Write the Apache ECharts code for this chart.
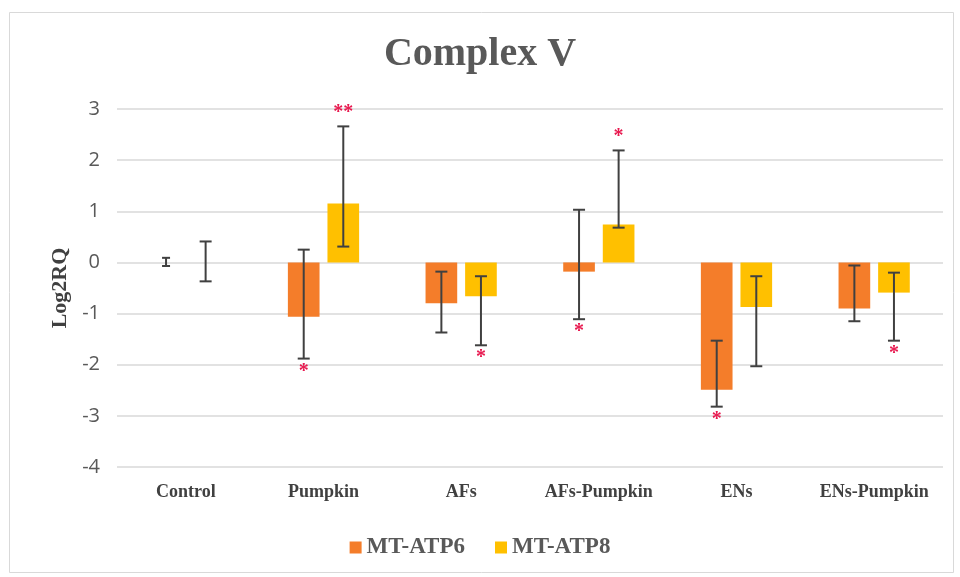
<!DOCTYPE html>
<html>
<head>
<meta charset="utf-8">
<script src="https://cdn.jsdelivr.net/npm/echarts@6/dist/echarts.min.js"></script>
<style>html,body{margin:0;padding:0;background:#fff;}#c{width:960px;height:577px;}</style>
</head>
<body>
<div id="c"></div>
<script>
var categories = ['Control', 'Pumpkin', 'AFs', 'AFs-Pumpkin', 'ENs', 'ENs-Pumpkin'];
var atp6 = [0, -1.06, -0.80, -0.18, -2.49, -0.90];
var atp6Low = [-0.07, -1.88, -1.37, -1.11, -2.82, -1.15];
var atp6High = [0.09, 0.25, -0.18, 1.03, -1.53, -0.06];
var atp6Sig = ['', '*', '', '*', '*', ''];
var atp6SigPos = ['', 'bottom', '', 'bottom', 'bottom', ''];
var atp8 = [0, 1.15, -0.66, 0.74, -0.87, -0.59];
var atp8Low = [-0.37, 0.31, -1.62, 0.68, -2.03, -1.53];
var atp8High = [0.41, 2.66, -0.27, 2.19, -0.27, -0.20];
var atp8Sig = ['', '**', '*', '*', '', '*'];
var atp8SigPos = ['', 'top', 'bottom', 'top', '', 'bottom'];
var yTicks = [-4, -3, -2, -1, 0, 1, 2, 3];

var BAR_W = 0.23, BAR_GAP = 0.25;
var C6 = '#F47D2A', C8 = '#FFC000';

function errData(lo, hi, sig, pos) {
  return categories.map(function (c, i) { return [i, lo[i], hi[i], sig[i], pos[i]]; });
}
function makeErr(side) {
  return function (params, api) {
    var xi = api.value(0);
    var lo = api.coord([xi, api.value(1)]);
    var hi = api.coord([xi, api.value(2)]);
    var band = api.size([1, 0])[0];
    var bw = band * BAR_W, gap = bw * BAR_GAP;
    var x = lo[0] + side * (bw + gap) / 2;
    var cap = (xi === 0 && side < 0) ? 4 : 6;
    var st = { stroke: '#404040', lineWidth: 2 };
    var ch = [
      { type: 'line', shape: { x1: x, y1: lo[1], x2: x, y2: hi[1] }, style: st },
      { type: 'line', shape: { x1: x - cap, y1: lo[1], x2: x + cap, y2: lo[1] }, style: st },
      { type: 'line', shape: { x1: x - cap, y1: hi[1], x2: x + cap, y2: hi[1] }, style: st }
    ];
    var sig = api.value(3), pos = api.value(4);
    if (sig) {
      var ty = pos === 'top' ? hi[1] - 4 : lo[1] + 3;
      ch.push({ type: 'text', style: { text: sig, x: x, y: ty, fill: '#E8194F',
        fontSize: 20, fontWeight: 'bold', fontFamily: 'Liberation Serif',
        align: 'center', verticalAlign: pos === 'top' ? 'bottom' : 'top' } });
    }
    return { type: 'group', children: ch };
  };
}

var chart = echarts.init(document.getElementById('c'));
chart.setOption({
  backgroundColor: '#ffffff',
  animation: false,
  graphic: [{ type: 'rect', left: 7, top: 10, shape: { width: 944, height: 560 },
    style: { fill: 'none', stroke: '#d9d9d9', lineWidth: 1 } }],
  title: { text: 'Complex V', left: 'center', top: 30,
    textStyle: { fontFamily: 'Liberation Serif', fontWeight: 'bold', fontSize: 40, color: '#595959' } },
  legend: { data: ['MT-ATP6', 'MT-ATP8'], left: 'center', top: 531, itemWidth: 12, itemHeight: 12,
    itemGap: 30, icon: 'rect',
    textStyle: { fontFamily: 'Liberation Serif', fontWeight: 'bold', fontSize: 23, color: '#595959' } },
  grid: { left: 117, right: 17, top: 109, bottom: 110 },
  xAxis: { type: 'category', data: categories,
    axisLine: { show: false }, axisTick: { show: false },
    axisLabel: { interval: 0, margin: 16, fontFamily: 'Liberation Serif', fontWeight: 'bold', fontSize: 18, color: '#404040' } },
  yAxis: { type: 'value', min: -4, max: 3, interval: 1,
    name: 'Log2RQ', nameLocation: 'middle', nameGap: 46,
    nameTextStyle: { fontFamily: 'Liberation Serif', fontWeight: 'bold', fontSize: 22, color: '#404040' },
    axisLine: { show: false }, axisTick: { show: false },
    axisLabel: { margin: 17, fontFamily: 'Open Sans', fontSize: 20, color: '#595959',
      formatter: function (v) { return yTicks.indexOf(v) >= 0 ? String(v) : ''; } },
    splitLine: { lineStyle: { color: '#d9d9d9', width: 1.5 } } },
  series: [
    { name: 'MT-ATP6', type: 'bar', data: atp6, barWidth: (BAR_W * 100) + '%', barGap: (BAR_GAP * 100) + '%',
      itemStyle: { color: C6 } },
    { name: 'MT-ATP8', type: 'bar', data: atp8, barWidth: (BAR_W * 100) + '%', barGap: (BAR_GAP * 100) + '%',
      itemStyle: { color: C8 } },
    { type: 'custom', renderItem: makeErr(-1), data: errData(atp6Low, atp6High, atp6Sig, atp6SigPos),
      encode: { x: 0, y: [1, 2] }, z: 10, silent: true },
    { type: 'custom', renderItem: makeErr(1), data: errData(atp8Low, atp8High, atp8Sig, atp8SigPos),
      encode: { x: 0, y: [1, 2] }, z: 10, silent: true }
  ]
});
</script>
</body>
</html>
